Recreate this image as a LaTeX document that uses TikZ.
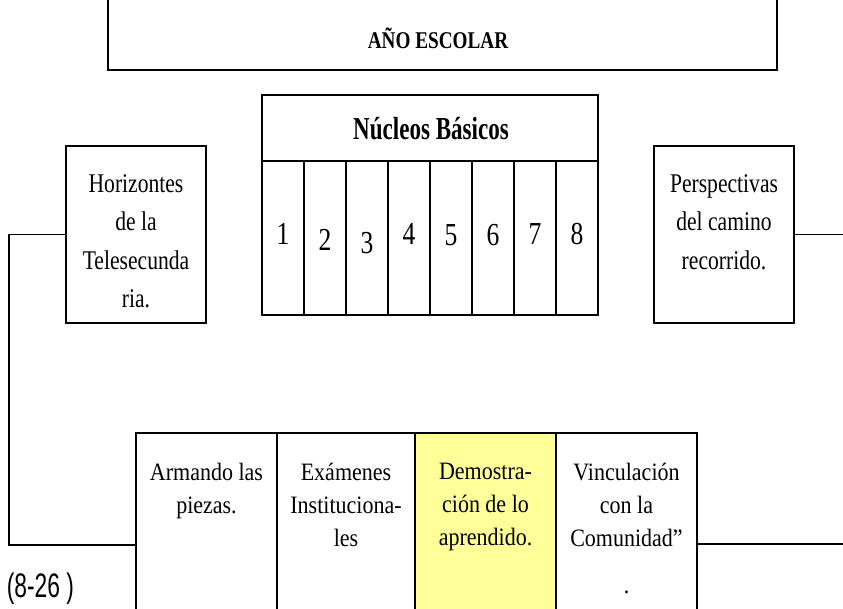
\documentclass[tikz,border=0pt]{standalone}
\usepackage{fontspec}
\setmainfont{Liberation Serif}
\newfontfamily\condfont[FakeStretch=0.8]{Liberation Serif}
\newfontfamily\headfont[FakeStretch=0.72]{Liberation Serif}
\newfontfamily\rowfont[FakeStretch=0.88]{Liberation Serif}
\newfontfamily\refsans[FakeStretch=0.67]{Liberation Sans}
\usepackage{tikz}
\usetikzlibrary{positioning}
\definecolor{paleyellow}{RGB}{255,255,153}

\begin{document}
\begin{tikzpicture}[x=1pt,y=-1pt,line width=1.6pt,
    box/.style={draw,rectangle,inner sep=0pt,outer sep=0pt},
    toptext/.style={align=center,inner sep=0pt,anchor=north,font=\condfont\fontsize{27}{38.5}\selectfont},
    rowtext/.style={align=center,inner sep=0pt,anchor=north,font=\rowfont\fontsize{25}{33}\selectfont}]

\useasboundingbox (0,0) rectangle (843,608);
\clip (0,0) rectangle (843,608);

% year
\node[box,minimum width=669,minimum height=90] (anio) at (442.5,25) {};
\node[anchor=base,font=\condfont\bfseries\fontsize{24}{28}\selectfont] (aniotxt) at (438,48) {AÑO ESCOLAR};

% basic nuclei
\node[box,minimum width=336,minimum height=66] (nucleos) at (430,128) {};
\node[anchor=base,font=\headfont\bfseries\fontsize{32}{36}\selectfont] (nucleostxt) at (431,139) {Núcleos Básicos};
\foreach \n/\b in {1/244,2/250,3/253,4/244,5/245,6/245,7/244,8/244} {
    \node[box,minimum width=42,minimum height=154] (c\n) at (241+42*\n,238) {};
    \node[anchor=base,font=\condfont\fontsize{32}{36}\selectfont] (n\n) at (c\n |- 0,\b) {\n};
}

% side boxes
\node[box,minimum width=140,minimum height=177] (horiz) at (136,234.5) {};
\node[toptext] (horiztxt) at (136,173.5) {Horizontes\\de la\\Telesecunda\\ria.};
\node[box,minimum width=140,minimum height=177] (persp) at (724,234.5) {};
\node[toptext] (persptxt) at (724,173.5) {Perspectivas\\del camino\\recorrido.};

% bottom row
\node[box,minimum width=141,minimum height=217] (arm) at (206.5,541.5) {};
\node[box,minimum width=138,minimum height=217] (exa) at (346,541.5) {};
\node[box,fill=paleyellow,minimum width=141,minimum height=217] (dem) at (485.5,541.5) {};
\node[box,minimum width=141,minimum height=217] (vin) at (626.5,541.5) {};
\node[rowtext] (armtxt) at (arm |- 0,462) {Armando las\\piezas.};
\node[rowtext] (exatxt) at (exa |- 0,462) {Exámenes\\Instituciona-\\les};
\node[rowtext] (demtxt) at (dem |- 0,462) {Demostra-\\ción de lo\\aprendido.};
\node[rowtext] (vintxt) at (vin |- 0,462) {Vinculación\\con la\\Comunidad”\\[14pt].};

% rails
\coordinate (lfoot) at (9,545);
\coordinate (rfoot) at (843,544);
\draw (horiz.west) -| (lfoot) -- (lfoot -| arm.west);
\draw (persp.east) -- (persp.east -| rfoot);
\draw (rfoot -| vin.east) -- (rfoot);

\node[anchor=base west,inner sep=0pt,font=\refsans\fontsize{34}{36}\selectfont] (pages) at (6,597) {(8-26 )};
\end{tikzpicture}
\end{document}
